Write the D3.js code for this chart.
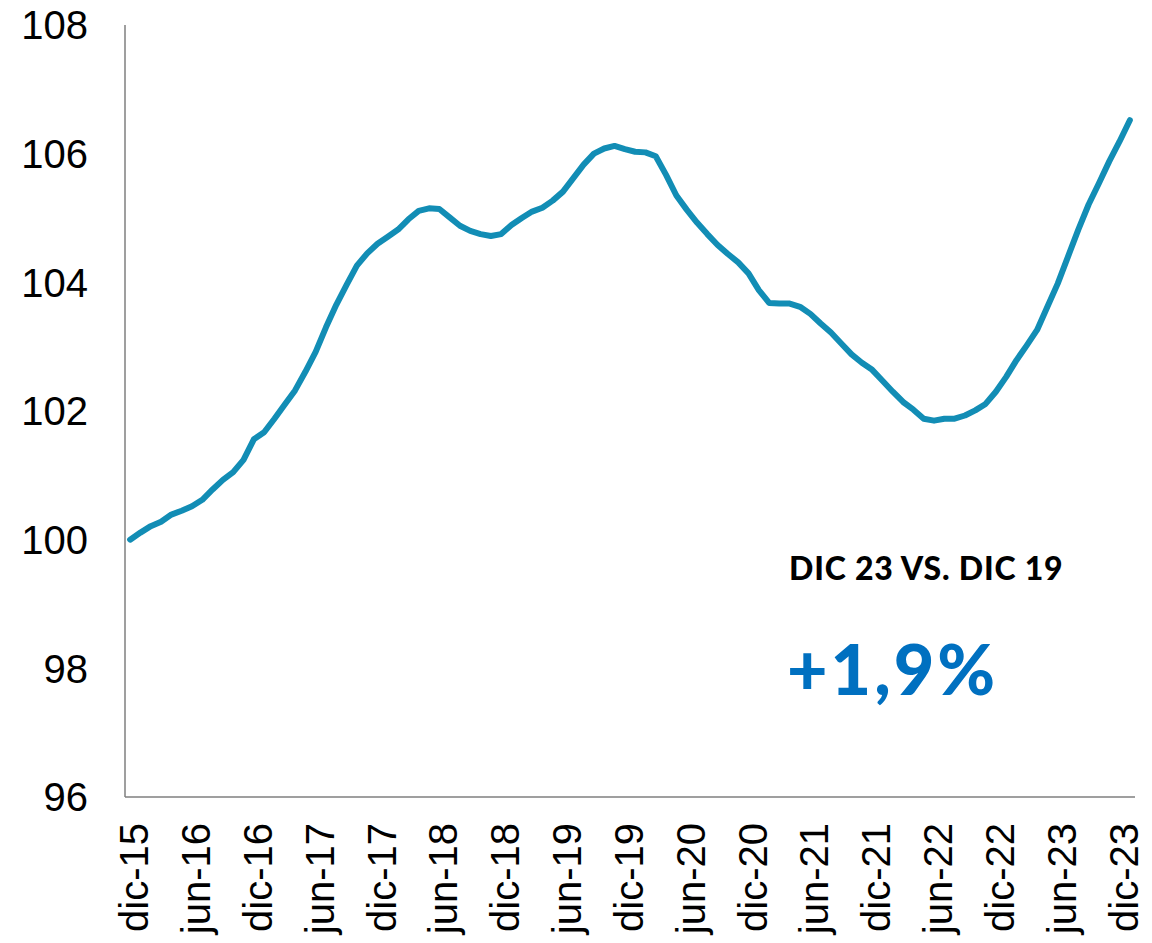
<html>
<head>
<meta charset="utf-8">
<script src="https://d3js.org/d3.v7.min.js"></script>
<style>
body { margin: 0; background: #fff; }
svg { display: block; }
.tick-label { font-family: "Liberation Sans", Arial, sans-serif; font-size: 40px; fill: #000; }
.note { font-family: Lato, "Open Sans", sans-serif; font-weight: 900; }
</style>
</head>
<body>
<div id="plot"></div>
<script>

var width = 1152;
var height = 943;

// Monthly categories, dic-15 .. ene-24
var months = [
  "dic-15",
  "ene-16","feb-16","mar-16","abr-16","may-16","jun-16","jul-16","ago-16","sep-16","oct-16","nov-16","dic-16",
  "ene-17","feb-17","mar-17","abr-17","may-17","jun-17","jul-17","ago-17","sep-17","oct-17","nov-17","dic-17",
  "ene-18","feb-18","mar-18","abr-18","may-18","jun-18","jul-18","ago-18","sep-18","oct-18","nov-18","dic-18",
  "ene-19","feb-19","mar-19","abr-19","may-19","jun-19","jul-19","ago-19","sep-19","oct-19","nov-19","dic-19",
  "ene-20","feb-20","mar-20","abr-20","may-20","jun-20","jul-20","ago-20","sep-20","oct-20","nov-20","dic-20",
  "ene-21","feb-21","mar-21","abr-21","may-21","jun-21","jul-21","ago-21","sep-21","oct-21","nov-21","dic-21",
  "ene-22","feb-22","mar-22","abr-22","may-22","jun-22","jul-22","ago-22","sep-22","oct-22","nov-22","dic-22",
  "ene-23","feb-23","mar-23","abr-23","may-23","jun-23","jul-23","ago-23","sep-23","oct-23","nov-23","dic-23",
  "ene-24"
];

// Index values
var values = [
  100.00,
  100.11, 100.21, 100.28, 100.39, 100.45, 100.52, 100.62, 100.78, 100.93, 101.05, 101.24, 101.56,
  101.67, 101.88, 102.10, 102.32, 102.61, 102.92, 103.30, 103.65, 103.96, 104.26, 104.45, 104.60,
  104.71, 104.82, 104.98, 105.11, 105.15, 105.14, 105.01, 104.88, 104.80, 104.75, 104.72, 104.75,
  104.89, 105.00, 105.10, 105.16, 105.27, 105.41, 105.62, 105.83, 106.00, 106.08, 106.12, 106.07,
  106.03, 106.02, 105.96, 105.67, 105.35, 105.13, 104.93, 104.75, 104.58, 104.44, 104.31, 104.14,
  103.88, 103.68, 103.67, 103.67, 103.62, 103.51, 103.36, 103.22, 103.05, 102.88, 102.75, 102.64,
  102.47, 102.30, 102.14, 102.02, 101.88, 101.85, 101.88, 101.88, 101.93, 102.01, 102.11, 102.30,
  102.53, 102.79, 103.02, 103.26, 103.62, 103.98, 104.40, 104.82, 105.21, 105.54, 105.88, 106.19,
  106.52
];

var yTicks = [96, 98, 100, 102, 104, 106, 108];
var xTickLabels = ["dic-15","jun-16","dic-16","jun-17","dic-17","jun-18","dic-18","jun-19","dic-19",
  "jun-20","dic-20","jun-21","dic-21","jun-22","dic-22","jun-23","dic-23"];

var noteTitle = "DIC 23 VS. DIC 19";
var noteValue = "+1,9%";

var svg = d3.select("#plot").append("svg")
  .attr("width", width).attr("height", height);

var xScale = d3.scaleBand().domain(months).range([125, 1135]).padding(0);
var yScale = d3.scaleLinear().domain([96, 108]).range([797, 25]);

var cx = function (m) { return xScale(m) + xScale.bandwidth() / 2; };

// Axes lines
svg.append("line")
  .attr("x1", 125).attr("x2", 125)
  .attr("y1", yScale(108)).attr("y2", yScale(96))
  .style("stroke", "#7f7f7f").style("stroke-width", 1.5);
svg.append("line")
  .attr("x1", 125).attr("x2", 1135)
  .attr("y1", yScale(96)).attr("y2", yScale(96))
  .style("stroke", "#7f7f7f").style("stroke-width", 1.5);

// Y labels
svg.selectAll("text.ylab").data(yTicks).enter().append("text")
  .attr("class", "tick-label ylab")
  .attr("x", 88).attr("y", function (d) { return yScale(d); })
  .attr("dy", "0.36em")
  .attr("text-anchor", "end")
  .text(function (d) { return d; });

// X labels, rotated
svg.selectAll("text.xlab").data(xTickLabels).enter().append("text")
  .attr("class", "tick-label xlab")
  .attr("transform", function (d) { return "translate(" + cx(d) + ",823) rotate(-90)"; })
  .attr("dy", "0.45em")
  .attr("text-anchor", "end")
  .text(function (d) { return d; });

// The series
var line = d3.line()
  .x(function (d, i) { return cx(months[i]); })
  .y(function (d) { return yScale(d); });

svg.append("path").datum(values)
  .attr("d", line)
  .style("fill", "none")
  .style("stroke", "#128db5")
  .style("stroke-width", 6)
  .style("stroke-linejoin", "round")
  .style("stroke-linecap", "round");

// Annotation
svg.append("text").attr("class", "note")
  .attr("x", 789).attr("y", 580)
  .style("font-size", "32px").style("letter-spacing", "0.8px").style("fill", "#000")
  .text(noteTitle);

svg.append("text").attr("class", "note")
  .attr("x", 787).attr("y", 695)
  .style("font-size", "70px").style("letter-spacing", "3px").style("fill", "#0070c0")
  .text(noteValue);

</script>
</body>
</html>
